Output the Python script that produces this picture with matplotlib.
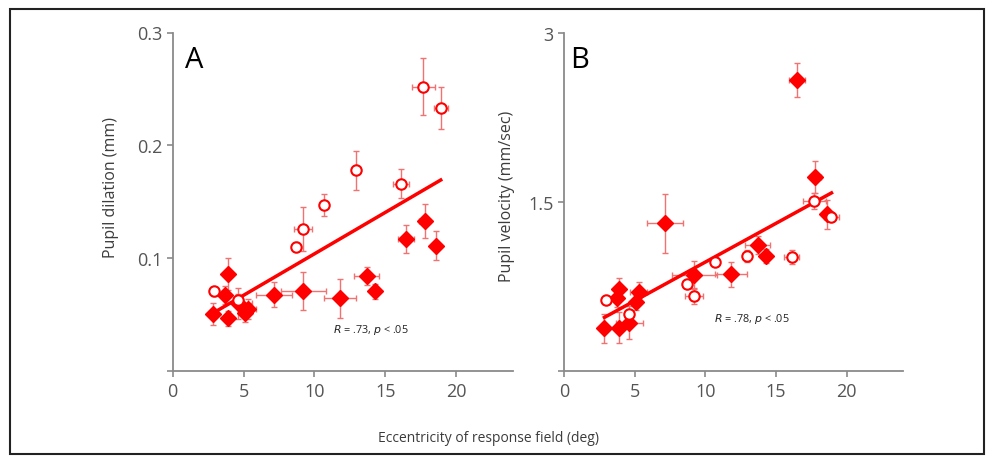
import matplotlib
matplotlib.use("Agg")
import matplotlib.pyplot as plt
from matplotlib.patches import Rectangle

plt.rcParams['font.family'] = ['Open Sans', 'DejaVu Sans']

# ---- data (eccentricity shared by both panels) ----
circ_x = [2.95, 4.63, 8.72, 9.2, 10.7, 12.95, 16.1, 17.7, 18.92]
circ_xerr = [0.1, 0.15, 0.15, 0.65, 0.1, 0.15, 0.55, 0.8, 0.5]
circ_yA = [0.0705, 0.063, 0.110, 0.126, 0.147, 0.178, 0.166, 0.252, 0.233]
circ_yerrA = [0.004, 0.005, 0.004, 0.0196, 0.01, 0.0174, 0.013, 0.025, 0.0186]
circ_yB = [0.63, 0.51, 0.77, 0.667, 0.97, 1.02, 1.01, 1.51, 1.37]
circ_yerrB = [0.03, 0.03, 0.03, 0.07, 0.03, 0.055, 0.06, 0.07, 0.04]

dia_x = [2.86, 3.72, 3.89, 3.89, 4.62, 5.12, 5.3, 7.15, 9.21, 11.82, 13.69, 14.26, 16.48, 17.78, 18.6]
dia_xerr = [0.1, 0.1, 0.1, 0.1, 0.95, 0.15, 0.6, 1.3, 1.6, 1.15, 0.9, 0.15, 0.55, 0.4, 0.25]
dia_yA = [0.0504, 0.0675, 0.0858, 0.0466, 0.060, 0.051, 0.055, 0.0675, 0.071, 0.0643, 0.0844, 0.0705, 0.117, 0.133, 0.111]
dia_yerrA = [0.01, 0.008, 0.014, 0.007, 0.014, 0.008, 0.009, 0.011, 0.017, 0.017, 0.008, 0.007, 0.012, 0.015, 0.0127]
dia_yB = [0.38, 0.652, 0.726, 0.386, 0.43, 0.608, 0.697, 1.31, 0.853, 0.86, 1.115, 1.02, 2.58, 1.72, 1.39]
dia_yerrB = [0.13, 0.08, 0.1, 0.14, 0.15, 0.07, 0.09, 0.265, 0.125, 0.11, 0.08, 0.06, 0.15, 0.14, 0.13]

# regression lines (slope, intercept) and x span
fitA = (0.00734, 0.0304)
fitB = (0.0688, 0.279)
fit_x = [2.86, 18.92]

x_ticks = [0, 5, 10, 15, 20]
yticksA = [0, 0.1, 0.2, 0.3]
ylabelsA = ['', '0.1', '0.2', '0.3']
yticksB = [0, 1.5, 3]
ylabelsB = ['', '1.5', '3']

RED = '#ff0000'
ERR = '#f27272'
AXC = '#8a8a8a'
TXT = '#3c3c3c'

fig = plt.figure(figsize=(9.9, 4.64), dpi=100)
fig.patches.append(Rectangle((9.5/990, 1-455/464), 974/990, 445/464, transform=fig.transFigure,
                             fill=False, edgecolor='#222222', linewidth=1.5))

axA = fig.add_axes([172.7/990, 1-372/464, 340/990, 338.5/464])
axB = fig.add_axes([564/990, 1-372/464, 339.3/990, 338/464])


def panel(ax, cy, cyerr, dy, dyerr, fit, ylim, yt, yl, ylabel, lab_xy, letter, let_x,
          stat, stat_xy):
    ax.errorbar(dia_x, dy, yerr=dyerr, xerr=dia_xerr, fmt='none', ecolor=ERR,
                elinewidth=1.0, capsize=2.5, capthick=1.0, zorder=2)
    ax.errorbar(circ_x, cy, yerr=cyerr, xerr=circ_xerr, fmt='none', ecolor=ERR,
                elinewidth=1.0, capsize=2.5, capthick=1.0, zorder=2)
    ax.plot(dia_x, dy, linestyle='none', marker='D', markersize=8.5, color=RED,
            markeredgecolor=RED, zorder=4)
    ax.plot(circ_x, cy, linestyle='none', marker='o', markersize=7.5, markerfacecolor='white',
            markeredgecolor=RED, markeredgewidth=1.5, zorder=5)
    fy = [fit[0]*x + fit[1] for x in fit_x]
    ax.plot(fit_x, fy, color=RED, linewidth=2.5, zorder=3)
    ax.set_xlim(0, 24)
    ax.set_ylim(*ylim)
    ax.set_xticks(x_ticks)
    ax.set_yticks(yt)
    ax.set_yticklabels(yl)
    for s in ['top', 'right']:
        ax.spines[s].set_visible(False)
    for s in ['left', 'bottom']:
        ax.spines[s].set_color(AXC)
        ax.spines[s].set_linewidth(1.3)
    ax.tick_params(direction='out', length=4, width=1.2, color=AXC, labelcolor='#555555',
                   labelsize=13)
    ax.tick_params(axis='x', pad=4)
    ax.set_ylabel(ylabel, fontsize=11.5, color=TXT)
    ax.yaxis.set_label_coords(*lab_xy)
    ax.text(let_x, 0.898, letter, transform=ax.transAxes, fontsize=21, color='black',
            ha='left', va='baseline')
    ax.text(stat_xy[0], stat_xy[1], stat, transform=ax.transData, fontsize=7.8, color='#222222',
            ha='center', va='center')


panel(axA, circ_yA, circ_yerrA, dia_yA, dia_yerrA, fitA, (0, 0.3), yticksA, ylabelsA,
      'Pupil dilation (mm)', (-0.158, 0.546), 'A', 0.035,
      r'$\it{R}$ = .73, $\it{p}$ < .05', (14.0, 0.0375))
panel(axB, circ_yB, circ_yerrB, dia_yB, dia_yerrB, fitB, (0, 3), yticksB, ylabelsB,
      'Pupil velocity (mm/sec)', (-0.145, 0.52), 'B', 0.018,
      r'$\it{R}$ = .78, $\it{p}$ < .05', (13.3, 0.47))

fig.text(488/990, 1-439/464, 'Eccentricity of response field (deg)', fontsize=10, color=TXT,
         ha='center', va='center')

fig.savefig('out.png', dpi=100)
